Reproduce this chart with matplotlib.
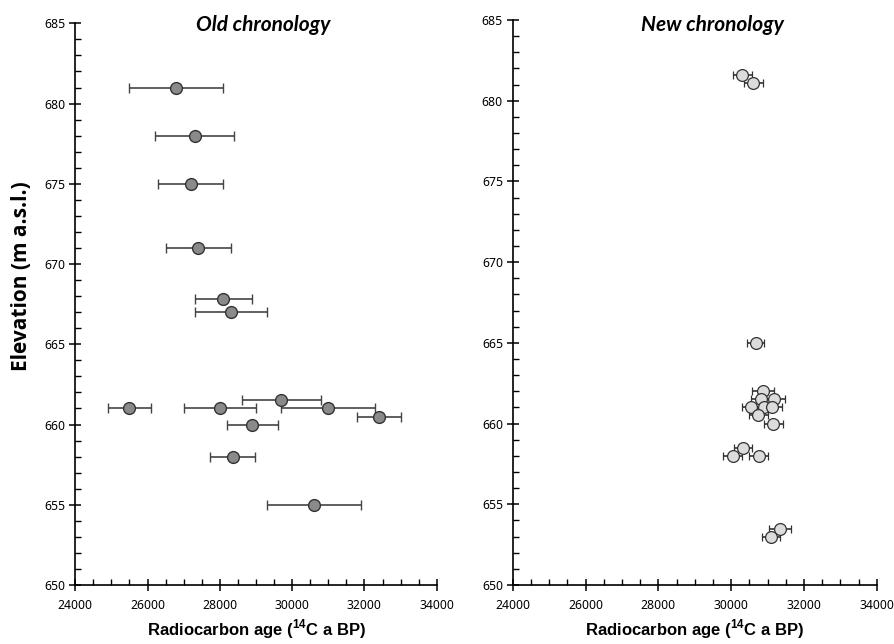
import matplotlib
matplotlib.use("Agg")
import matplotlib.pyplot as plt
from matplotlib.ticker import MultipleLocator

plt.rcParams['font.family'] = ['Noto Sans', 'DejaVu Sans']
plt.rcParams['mathtext.fontset'] = 'custom'
plt.rcParams['mathtext.rm'] = 'Liberation Sans'
plt.rcParams['mathtext.bf'] = 'Liberation Sans:bold'

# Old chronology: age, 1-sigma, elevation
old_age = [26800, 27300, 27200, 27400, 28100, 28300, 29700, 25500, 28000,
           31000, 32400, 28900, 28350, 30600]
old_err = [1300, 1100, 900, 900, 800, 1000, 1100, 600, 1000,
           1300, 600, 700, 630, 1300]
old_elev = [681, 678, 675, 671, 667.8, 667, 661.5, 661, 661,
            661, 660.5, 660, 658, 655]

# New chronology
new_age = [30310, 30610, 30670, 30880, 30820, 31190, 30550, 30910, 31130,
           30750, 31160, 30330, 30040, 30760, 31340, 31090]
new_err = [250, 270, 240, 300, 280, 280, 250, 280, 280,
           270, 270, 250, 250, 260, 300, 250]
new_elev = [681.6, 681.1, 665, 662, 661.5, 661.5, 661, 661, 661,
            660.5, 660, 658.5, 658, 658, 653.5, 653]

xlab = r'Radiocarbon age ($^{\mathbf{14}}$C a BP)'

fig = plt.figure(figsize=(8.94, 6.44), dpi=100)
ax1 = fig.add_axes([0.0842, 0.0916, 0.4043, 0.8722])
ax2 = fig.add_axes([0.5735, 0.0916, 0.4072, 0.8774])


def style(ax):
    ax.set_xlim(24000, 34000)
    ax.set_ylim(650, 685)
    for s in ['top', 'right']:
        ax.spines[s].set_visible(False)
    for s in ['left', 'bottom']:
        ax.spines[s].set_linewidth(1.2)
    ax.xaxis.set_major_locator(MultipleLocator(2000))
    ax.xaxis.set_minor_locator(MultipleLocator(500))
    ax.yaxis.set_major_locator(MultipleLocator(5))
    ax.yaxis.set_minor_locator(MultipleLocator(1))
    ax.tick_params(which='major', direction='inout', length=8, width=1.1,
                   labelsize=8.8)
    ax.tick_params(axis='x', which='major', pad=6)
    ax.tick_params(axis='y', which='major', pad=3)
    ax.tick_params(which='minor', direction='in', length=4, width=1.0)
    ax.set_xlabel(xlab, fontsize=12, fontweight='bold',
                  family='Liberation Sans')
    ax.xaxis.set_label_coords(0.5, -0.058)


style(ax1)
style(ax2)

ax1.errorbar(old_age, old_elev, xerr=old_err, fmt='o', color='#444444',
             ecolor='#444444', elinewidth=1.2, capsize=3.5, capthick=1.2,
             markersize=8.5, markerfacecolor='#8a8a8a',
             markeredgecolor='#333333', markeredgewidth=1.0)
ax2.errorbar(new_age, new_elev, xerr=new_err, fmt='o', color='#444444',
             ecolor='#333333', elinewidth=1.2, capsize=3.0, capthick=1.2,
             markersize=8.5, markerfacecolor='#dcdcdc',
             markeredgecolor='#333333', markeredgewidth=0.9)

ax1.set_ylabel('Elevation (m a.s.l.)', fontsize=15, fontweight='bold',
               family='Open Sans')
ax1.yaxis.set_label_coords(-0.12, 0.55)

# titles placed in figure coords so both sit on the same line
fig.text(263 / 894, 1 - 25 / 644, 'Old chronology', fontsize=15,
         fontweight='bold', style='italic', family='Lato',
         ha='center', va='center')
fig.text(712 / 894, 1 - 25 / 644, 'New chronology', fontsize=15,
         fontweight='bold', style='italic', family='Lato',
         ha='center', va='center')

fig.savefig('out.png', dpi=100)
